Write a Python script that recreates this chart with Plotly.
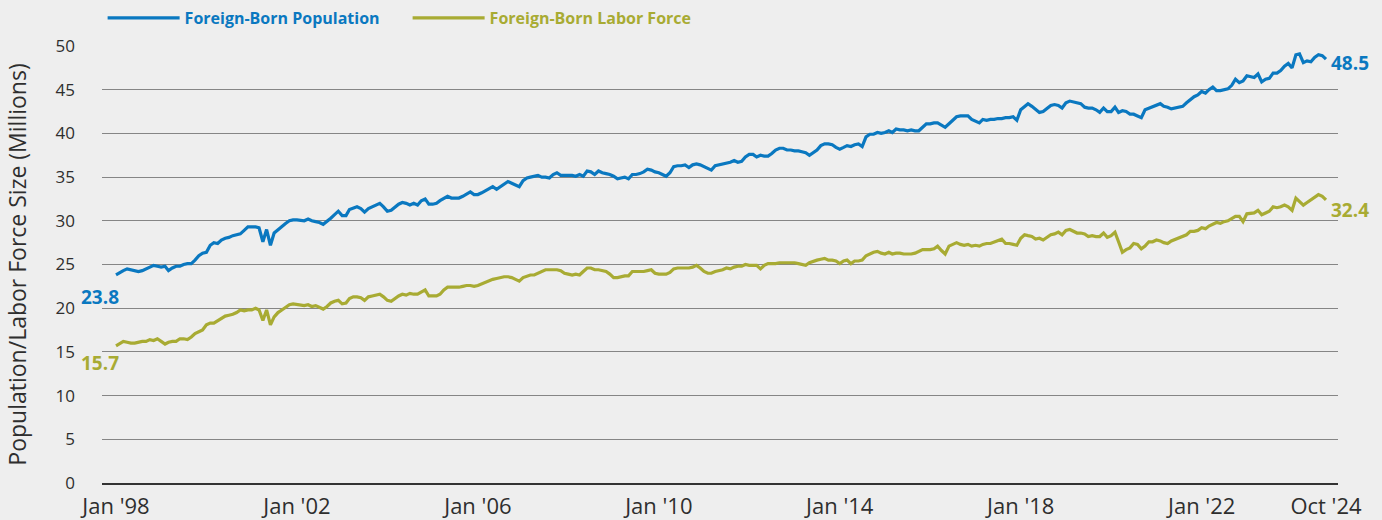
import pandas as pd
import plotly.graph_objects as go

# monthly values, Jan 1998 - Oct 2024 (millions)
population = [
    23.8, 24.1, 24.3, 24.5, 24.4, 24.3, 24.2, 24.3, 24.5, 24.7, 24.9, 24.8,  # 1998
    24.7, 24.8, 24.3, 24.6, 24.8, 24.8, 25.0, 25.1, 25.1, 25.5, 26.0, 26.3,  # 1999
    26.4, 27.2, 27.5, 27.4, 27.8, 28.0, 28.1, 28.3, 28.4, 28.5, 28.9, 29.3,  # 2000
    29.3, 29.3, 29.2, 27.6, 29.0, 27.2, 28.6, 29.0, 29.3, 29.7, 30.0, 30.1,  # 2001
    30.1, 30.0, 30.0, 30.2, 30.0, 29.9, 29.8, 29.6, 29.9, 30.3, 30.7, 31.1,  # 2002
    30.6, 30.6, 31.3, 31.5, 31.6, 31.4, 31.0, 31.4, 31.6, 31.8, 32.0, 31.6,  # 2003
    31.1, 31.2, 31.6, 31.9, 32.1, 32.0, 31.8, 32.0, 31.8, 32.3, 32.5, 31.9,  # 2004
    31.9, 32.0, 32.3, 32.6, 32.8, 32.6, 32.6, 32.6, 32.8, 33.1, 33.3, 33.0,  # 2005
    33.0, 33.2, 33.4, 33.6, 33.9, 33.6, 33.9, 34.3, 34.5, 34.3, 34.1, 33.9,  # 2006
    34.6, 34.9, 35.0, 35.1, 35.2, 35.0, 35.0, 34.9, 35.3, 35.5, 35.2, 35.2,  # 2007
    35.2, 35.2, 35.1, 35.3, 35.1, 35.7, 35.6, 35.3, 35.7, 35.5, 35.4, 35.3,  # 2008
    35.1, 34.8, 34.9, 35.0, 34.8, 35.3, 35.3, 35.4, 35.6, 35.9, 35.8, 35.6,  # 2009
    35.5, 35.3, 35.1, 35.5, 36.2, 36.3, 36.3, 36.4, 36.1, 36.4, 36.5, 36.4,  # 2010
    36.2, 36.0, 35.8, 36.3, 36.4, 36.5, 36.6, 36.7, 36.9, 36.7, 36.8, 37.3,  # 2011
    37.6, 37.6, 37.3, 37.5, 37.4, 37.4, 37.7, 38.1, 38.3, 38.3, 38.1, 38.1,  # 2012
    38.0, 38.0, 37.9, 37.8, 37.5, 37.8, 38.1, 38.6, 38.8, 38.8, 38.7, 38.4,  # 2013
    38.2, 38.4, 38.6, 38.5, 38.7, 38.8, 38.5, 39.6, 39.9, 39.9, 40.1, 40.0,  # 2014
    40.1, 40.3, 40.1, 40.5, 40.4, 40.4, 40.3, 40.4, 40.3, 40.3, 40.7, 41.1,  # 2015
    41.1, 41.2, 41.2, 40.9, 40.7, 41.1, 41.5, 41.9, 42.0, 42.0, 42.0, 41.6,  # 2016
    41.4, 41.2, 41.6, 41.5, 41.6, 41.6, 41.7, 41.7, 41.8, 41.8, 41.9, 41.5,  # 2017
    42.7, 43.1, 43.4, 43.1, 42.7, 42.4, 42.5, 42.9, 43.2, 43.3, 43.2, 42.9,  # 2018
    43.5, 43.7, 43.6, 43.5, 43.4, 43.0, 42.9, 42.9, 42.7, 42.4, 42.9, 42.5,  # 2019
    42.5, 43.0, 42.4, 42.6, 42.5, 42.2, 42.2, 42.0, 41.8, 42.7, 42.9, 43.1,  # 2020
    43.3, 43.4, 43.1, 43.0, 42.8, 42.9, 43.0, 43.1, 43.5, 43.9, 44.2, 44.4,  # 2021
    44.8, 44.6, 45.0, 45.3, 44.9, 44.9, 45.0, 45.1, 45.5, 46.2, 45.8, 46.0,  # 2022
    46.6, 46.5, 46.4, 46.8, 45.9, 46.2, 46.3, 46.9, 46.9, 47.2, 47.7, 48.0,  # 2023
    47.5, 49.0, 49.1, 48.1, 48.3, 48.2, 48.7, 49.0, 48.9, 48.5,              # 2024
]

labor_force = [
    15.7, 16.0, 16.2, 16.1, 16.0, 16.0, 16.1, 16.2, 16.2, 16.4, 16.3, 16.5,  # 1998
    16.2, 15.9, 16.1, 16.2, 16.2, 16.5, 16.5, 16.4, 16.7, 17.1, 17.3, 17.5,  # 1999
    18.1, 18.3, 18.3, 18.6, 18.9, 19.1, 19.2, 19.3, 19.5, 19.8, 19.7, 19.8,  # 2000
    19.8, 20.0, 19.8, 18.6, 19.8, 18.1, 19.0, 19.5, 19.8, 20.1, 20.4, 20.5,  # 2001
    20.4, 20.3, 20.3, 20.4, 20.2, 20.3, 20.1, 19.9, 20.2, 20.6, 20.8, 20.9,  # 2002
    20.5, 20.6, 21.1, 21.3, 21.3, 21.2, 20.9, 21.3, 21.4, 21.5, 21.6, 21.3,  # 2003
    20.9, 20.8, 21.1, 21.4, 21.6, 21.5, 21.7, 21.6, 21.6, 21.9, 22.1, 21.4,  # 2004
    21.4, 21.4, 21.6, 22.1, 22.4, 22.4, 22.4, 22.4, 22.5, 22.6, 22.6, 22.5,  # 2005
    22.6, 22.8, 23.0, 23.2, 23.3, 23.4, 23.5, 23.6, 23.6, 23.5, 23.3, 23.1,  # 2006
    23.5, 23.7, 23.8, 23.8, 24.0, 24.3, 24.4, 24.4, 24.4, 24.4, 24.3, 24.0,  # 2007
    23.9, 23.8, 23.9, 23.8, 24.2, 24.6, 24.6, 24.4, 24.4, 24.3, 24.2, 23.9,  # 2008
    23.5, 23.5, 23.6, 23.7, 23.7, 24.2, 24.2, 24.2, 24.2, 24.3, 24.4, 24.0,  # 2009
    23.9, 23.9, 23.9, 24.1, 24.5, 24.6, 24.6, 24.6, 24.6, 24.7, 24.9, 24.6,  # 2010
    24.2, 24.0, 24.0, 24.2, 24.3, 24.4, 24.6, 24.5, 24.7, 24.8, 24.8, 25.0,  # 2011
    24.9, 24.9, 24.9, 24.5, 24.9, 25.1, 25.1, 25.1, 25.2, 25.2, 25.2, 25.2,  # 2012
    25.2, 25.1, 25.0, 24.9, 25.2, 25.4, 25.5, 25.6, 25.7, 25.5, 25.5, 25.4,  # 2013
    25.1, 25.4, 25.5, 25.1, 25.4, 25.4, 25.5, 26.0, 26.2, 26.4, 26.5, 26.3,  # 2014
    26.2, 26.4, 26.2, 26.3, 26.3, 26.2, 26.2, 26.2, 26.3, 26.5, 26.7, 26.7,  # 2015
    26.7, 26.8, 27.1, 26.6, 26.2, 27.1, 27.3, 27.5, 27.3, 27.2, 27.3, 27.1,  # 2016
    27.2, 27.1, 27.3, 27.4, 27.4, 27.6, 27.7, 27.9, 27.4, 27.4, 27.3, 27.2,  # 2017
    28.0, 28.4, 28.3, 28.2, 27.9, 28.0, 27.8, 28.1, 28.4, 28.5, 28.7, 28.4,  # 2018
    28.9, 29.0, 28.8, 28.6, 28.6, 28.5, 28.2, 28.3, 28.2, 28.2, 28.6, 28.1,  # 2019
    28.3, 28.7, 27.6, 26.4, 26.7, 26.9, 27.4, 27.3, 26.8, 27.1, 27.6, 27.6,  # 2020
    27.8, 27.7, 27.5, 27.4, 27.7, 27.9, 28.0, 28.2, 28.4, 28.8, 28.8, 28.9,  # 2021
    29.2, 29.1, 29.4, 29.6, 29.8, 29.7, 29.9, 30.0, 30.3, 30.5, 30.5, 29.9,  # 2022
    30.8, 30.9, 30.9, 31.2, 30.7, 30.9, 31.1, 31.6, 31.5, 31.6, 31.8, 31.6,  # 2023
    31.2, 32.6, 32.2, 31.8, 32.1, 32.4, 32.7, 33.0, 32.8, 32.4,              # 2024
]

tick_dates = ["1998-01-01", "2002-01-01", "2006-01-01", "2010-01-01",
              "2014-01-01", "2018-01-01", "2022-01-01", "2024-10-01"]
tick_labels = ["Jan '98", "Jan '02", "Jan '06", "Jan '10",
               "Jan '14", "Jan '18", "Jan '22", "Oct '24"]
y_ticks = [0, 5, 10, 15, 20, 25, 30, 35, 40, 45, 50]

BLUE = "#0a78c0"
GOLD = "#a8ab33"
BG = "#eeeeee"
FONT = "'Open Sans', Lato, sans-serif"
TEXT = "#2e2e2e"

months = pd.date_range("1998-01-01", periods=len(population), freq="MS")

fig = go.Figure()
fig.add_trace(go.Scatter(
    x=months, y=population, mode="lines",
    name=f"<b><span style='color:{BLUE}'>Foreign-Born Population</span></b>",
    line=dict(color=BLUE, width=3.2),
))
fig.add_trace(go.Scatter(
    x=months, y=labor_force, mode="lines",
    name=f"<b><span style='color:{GOLD}'>Foreign-Born Labor Force</span></b>",
    line=dict(color=GOLD, width=3.2),
))

# end-point value labels
for series, color, y_off_start, y_off_end in [
    (population, BLUE, -7, -4),
    (labor_force, GOLD, -2, -10),
]:
    fig.add_annotation(x=months[0], y=series[0], text=f"<b>{series[0]}</b>",
                       showarrow=False, xanchor="right", yanchor="top",
                       xshift=5, yshift=y_off_start,
                       font=dict(size=19, color=color, family=FONT))
    fig.add_annotation(x=months[-1], y=series[-1], text=f"<b>{series[-1]}</b>",
                       showarrow=False, xanchor="left", yanchor="middle",
                       xshift=3, yshift=y_off_end,
                       font=dict(size=19, color=color, family=FONT))

# pad the date axis a little on both sides of the data
span = (months[-1] - months[0]).days
px_day = 1210 / span
x_range = [months[0] - pd.Timedelta(days=14 / px_day),
           months[-1] + pd.Timedelta(days=12 / px_day)]

fig.update_layout(
    width=1382, height=520,
    margin=dict(l=102, r=44, t=46, b=37, autoexpand=False),
    paper_bgcolor=BG, plot_bgcolor=BG,
    font=dict(family=FONT, color=TEXT),
    showlegend=True,
    legend=dict(orientation="h", x=0.0005, xanchor="left", y=1.064, yanchor="middle",
                font=dict(size=16, family=FONT), entrywidth=218, entrywidthmode="pixels",
                itemwidth=72, bgcolor="rgba(0,0,0,0)"),
    xaxis=dict(
        range=x_range, tickvals=pd.to_datetime(tick_dates), ticktext=tick_labels,
        showgrid=False, showline=True, linecolor="#333333", linewidth=2,
        ticks="", tickfont=dict(size=22, color=TEXT), ticklabelstandoff=3,
        zeroline=False,
    ),
    yaxis=dict(
        range=[0, 50], tickvals=y_ticks, showgrid=True, gridcolor="#858585", gridwidth=1.3,
        zeroline=False, ticks="", tickfont=dict(size=17, color=TEXT),
        ticklabelstandoff=26,
        title=dict(text="Population/Labor Force Size (Millions)",
                   font=dict(size=23, color=TEXT), standoff=22),
    ),
)

# the page's default body margin would shift the fixed-size figure
fig.write_html("out.html", config={"displayModeBar": False},
               post_script="document.body.style.margin='0';")
